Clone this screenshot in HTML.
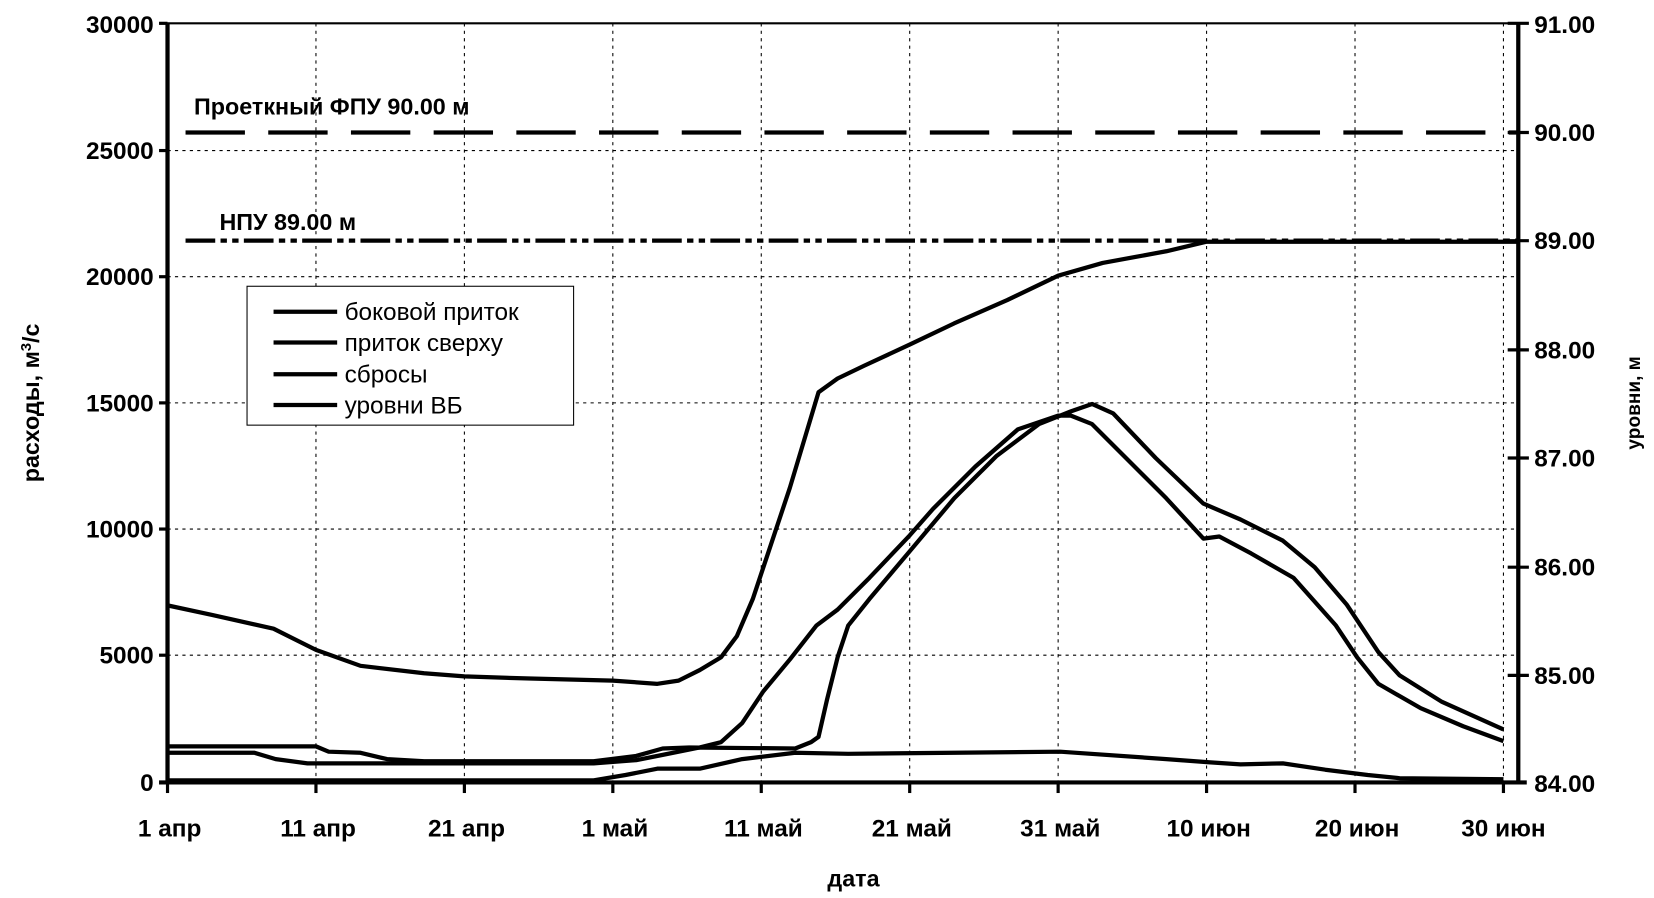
<!DOCTYPE html>
<html><head><meta charset="utf-8"><style>html,body{margin:0;padding:0;background:#fff}svg{display:block}</style></head>
<body>
<svg width="1654" height="898" viewBox="0 0 1560 847" preserveAspectRatio="none" xmlns="http://www.w3.org/2000/svg" font-family="Liberation Sans, Arial, sans-serif">
<rect width="1560" height="847" fill="#fff"/>
<g stroke="#000" stroke-width="1" stroke-dasharray="3,4" fill="none">
<line x1="298" y1="22" x2="298" y2="737"/><line x1="438" y1="22" x2="438" y2="737"/><line x1="578" y1="22" x2="578" y2="737"/><line x1="718" y1="22" x2="718" y2="737"/><line x1="858" y1="22" x2="858" y2="737"/><line x1="998" y1="22" x2="998" y2="737"/><line x1="1138" y1="22" x2="1138" y2="737"/><line x1="1278" y1="22" x2="1278" y2="737"/><line x1="1418" y1="22" x2="1418" y2="737"/>
<line x1="158" y1="142" x2="1432" y2="142"/><line x1="158" y1="261" x2="1432" y2="261"/><line x1="158" y1="380" x2="1432" y2="380"/><line x1="158" y1="499" x2="1432" y2="499"/><line x1="158" y1="618" x2="1432" y2="618"/>
</g>
<line x1="158" y1="22" x2="1432" y2="22" stroke="#000" stroke-width="2"/>
<line x1="158" y1="22" x2="158" y2="740" stroke="#000" stroke-width="4"/>
<line x1="1432" y1="22" x2="1432" y2="740" stroke="#000" stroke-width="4"/>
<line x1="150" y1="738" x2="1440" y2="738" stroke="#000" stroke-width="4"/>
<g stroke="#000" stroke-width="3">
<line x1="150" y1="22" x2="158" y2="22"/><line x1="150" y1="142" x2="158" y2="142"/><line x1="150" y1="261" x2="158" y2="261"/><line x1="150" y1="380" x2="158" y2="380"/><line x1="150" y1="499" x2="158" y2="499"/><line x1="150" y1="618" x2="158" y2="618"/>
<line x1="1422" y1="22" x2="1442" y2="22"/><line x1="1422" y1="125" x2="1442" y2="125"/><line x1="1422" y1="227" x2="1442" y2="227"/><line x1="1422" y1="330" x2="1442" y2="330"/><line x1="1422" y1="432" x2="1442" y2="432"/><line x1="1422" y1="535" x2="1442" y2="535"/><line x1="1422" y1="637" x2="1442" y2="637"/>
<line x1="158" y1="738" x2="158" y2="748"/><line x1="298" y1="738" x2="298" y2="748"/><line x1="438" y1="738" x2="438" y2="748"/><line x1="578" y1="738" x2="578" y2="748"/><line x1="718" y1="738" x2="718" y2="748"/><line x1="858" y1="738" x2="858" y2="748"/><line x1="998" y1="738" x2="998" y2="748"/><line x1="1138" y1="738" x2="1138" y2="748"/><line x1="1278" y1="738" x2="1278" y2="748"/><line x1="1418" y1="738" x2="1418" y2="748"/>
</g>
<line x1="175" y1="125" x2="1432" y2="125" stroke="#000" stroke-width="4" stroke-dasharray="56,22"/>
<line x1="175" y1="227" x2="1432" y2="227" stroke="#000" stroke-width="4" stroke-dasharray="28,5,6,5,6,5"/>
<g fill="none" stroke="#000" stroke-width="4" stroke-linejoin="round">
<polyline points="158,571 200,580 258,593 298,613 340,628 400,635 438,638 500,640 578,642 620,645 640,642 660,632 680,620 695,600 710,565 725,520 745,460 760,410 772,370 790,357 815,345 858,325 900,305 950,283 998,260 1040,248 1100,237 1138,228 1432,228"/>
<polyline points="158,704 298,704 310,709 340,710 365,716 400,718 560,718 600,713 625,706 650,705 750,706 765,700 772,695 780,660 790,620 800,590 820,565 858,520 900,470 940,430 980,400 1010,388 1030,381 1050,390 1090,432 1135,475 1170,490 1210,510 1240,535 1270,570 1300,615 1320,637 1360,662 1418,688"/>
<polyline points="158,710 240,710 260,716 290,720 560,720 600,717 625,712 660,705 680,700 700,682 720,652 745,622 770,590 790,575 820,545 858,505 880,480 920,440 960,405 998,392 1010,392 1030,400 1060,430 1100,470 1135,508 1150,506 1180,522 1220,545 1260,590 1280,620 1300,645 1340,668 1380,685 1418,699"/>
<polyline points="158,736 560,736 590,731 620,725 660,725 700,716 750,710 800,711 900,710 1000,709 1100,716 1140,719 1170,721 1210,720 1250,726 1290,731 1320,734 1418,735"/>
</g>
<rect x="233" y="270" width="308" height="131" fill="#fff" stroke="#000" stroke-width="1"/>
<g stroke="#000" stroke-width="4"><line x1="258" y1="294" x2="318" y2="294"/><line x1="258" y1="323" x2="318" y2="323"/><line x1="258" y1="353" x2="318" y2="353"/><line x1="258" y1="382" x2="318" y2="382"/></g>
<g font-size="23" fill="#000"><text x="325" y="302">боковой приток</text><text x="325" y="331">приток сверху</text><text x="325" y="361">сбросы</text><text x="325" y="390">уровни ВБ</text></g>
<g font-size="22" font-weight="bold"><text x="183" y="108">Проеткный ФПУ 90.00 м</text><text x="207" y="217">НПУ 89.00 м</text></g>
<g font-size="23" text-anchor="end" font-weight="bold"><text x="145" y="31">30000</text><text x="145" y="150">25000</text><text x="145" y="269">20000</text><text x="145" y="388">15000</text><text x="145" y="507">10000</text><text x="145" y="626">5000</text><text x="145" y="746">0</text></g>
<g font-size="23" font-weight="bold"><text x="1447" y="31">91.00</text><text x="1447" y="133">90.00</text><text x="1447" y="235">89.00</text><text x="1447" y="338">88.00</text><text x="1447" y="440">87.00</text><text x="1447" y="543">86.00</text><text x="1447" y="645">85.00</text><text x="1447" y="747">84.00</text></g>
<g font-size="23" text-anchor="middle" font-weight="bold"><text x="160" y="789">1 апр</text><text x="300" y="789">11 апр</text><text x="440" y="789">21 апр</text><text x="580" y="789">1 май</text><text x="720" y="789">11 май</text><text x="860" y="789">21 май</text><text x="1000" y="789">31 май</text><text x="1140" y="789">10 июн</text><text x="1280" y="789">20 июн</text><text x="1418" y="789">30 июн</text></g>
<text x="805" y="836" font-size="22" font-weight="bold" text-anchor="middle">дата</text>
<text transform="translate(37,380) rotate(-90)" font-size="22" font-weight="bold" text-anchor="middle">расходы, м<tspan font-size="14" dy="-8">3</tspan><tspan dy="8">/с</tspan></text>
<text transform="translate(1547,380) rotate(-90)" font-size="18" font-weight="bold" text-anchor="middle">уровни, м</text>
</svg>
</body></html>
